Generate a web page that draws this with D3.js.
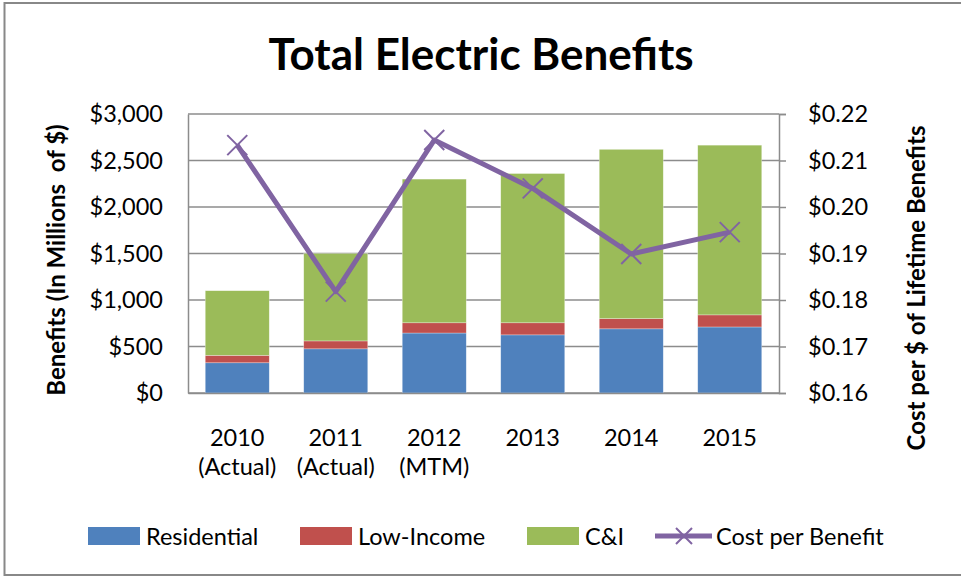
<!DOCTYPE html>
<html>
<head>
<meta charset="utf-8">
<script src="https://cdn.jsdelivr.net/npm/d3@7"></script>
<style>
  html, body { margin: 0; padding: 0; background: #fff; }
  svg { display: block; }
  text { font-family: Lato, "Open Sans", sans-serif; fill: #000; }
</style>
</head>
<body>
<svg id="chart" width="961" height="577"></svg>
<script>
// ---- data ----
const categories = ["2010|(Actual)", "2011|(Actual)", "2012|(MTM)", "2013", "2014", "2015"];
const residential = [325, 475, 645, 625, 690, 710];
const lowIncome   = [80, 85, 110, 130, 110, 130];
const cAndI       = [695, 940, 1545, 1605, 1820, 1825];
const costPerBenefit = [0.2133, 0.1818, 0.2144, 0.2040, 0.1899, 0.1946];
const leftTicks  = [0, 500, 1000, 1500, 2000, 2500, 3000];
const rightTicks = [0.16, 0.17, 0.18, 0.19, 0.20, 0.21, 0.22];
const seriesNames = ["Residential", "Low-Income", "C&I", "Cost per Benefit"];
const colors = ["#4F81BD", "#C0504D", "#9BBB59", "#8064A2"];

// ---- layout ----
const svg = d3.select("#chart");
const L = 188, R = 779, T = 114, B = 393;
const FS = 23.5;

svg.append("rect").attr("x", 4.5).attr("y", 3).attr("width", 970).attr("height", 572)
  .attr("fill", "none").attr("stroke", "#888").attr("stroke-width", 2);

const x = d3.scaleBand().domain(categories).range([L, R]).paddingInner(0.35).paddingOuter(0.175);
const yL = d3.scaleLinear().domain([0, 3000]).range([B, T]);
const yR = d3.scaleLinear().domain([0.16, 0.22]).range([B, T]);

// gridlines
svg.append("g").selectAll("line").data(leftTicks).join("line")
  .attr("x1", L).attr("x2", R).attr("y1", d => yL(d)).attr("y2", d => yL(d))
  .attr("stroke", "#8c8c8c").attr("stroke-width", 1.5);

// stacked bars
const rows = categories.map((c, i) => ({cat: c, residential: residential[i], lowIncome: lowIncome[i], cAndI: cAndI[i]}));
const stack = d3.stack().keys(["residential", "lowIncome", "cAndI"])(rows);
svg.append("g").selectAll("g").data(stack).join("g")
  .attr("fill", (d, i) => colors[i])
  .selectAll("rect").data(d => d).join("rect")
  .attr("x", d => x(d.data.cat))
  .attr("width", x.bandwidth())
  .attr("y", d => yL(d[1]))
  .attr("height", d => yL(d[0]) - yL(d[1]))
  .attr("stroke", "rgba(255,255,255,0.5)").attr("stroke-width", 0.6);

// axes
const axisL = svg.append("g").attr("transform", `translate(${L},0)`)
  .call(d3.axisLeft(yL).tickValues(leftTicks).tickSize(0).tickPadding(25)
    .tickFormat(d => "$" + d3.format(",")(d)));
axisL.select(".domain").attr("stroke", "#8c8c8c").attr("stroke-width", 1.5);
axisL.selectAll("text").attr("font-size", FS).style("font-family", "Lato");

const axisR = svg.append("g").attr("transform", `translate(${R},0)`)
  .call(d3.axisRight(yR).tickValues(rightTicks).tickSize(7).tickPadding(22)
    .tickFormat(d => "$" + d3.format(".2f")(d)));
axisR.select(".domain").attr("stroke", "#8c8c8c").attr("stroke-width", 1.5);
axisR.selectAll("line").attr("stroke", "#8c8c8c").attr("stroke-width", 1.5);
axisR.selectAll("text").attr("font-size", FS).style("font-family", "Lato");

const axisB = svg.append("g").attr("transform", `translate(0,${B})`)
  .call(d3.axisBottom(x).tickSize(0).tickFormat(""));
axisB.select(".domain").attr("stroke", "#8c8c8c").attr("stroke-width", 1.5);
axisB.selectAll(".tick").each(function(d) {
  const parts = d.split("|");
  const t = d3.select(this).append("text").attr("text-anchor", "middle").attr("font-size", FS)
    .style("fill", "#000");
  parts.forEach((p, k) => t.append("tspan").attr("x", 0).attr("y", 53 + k * 29).text(p));
});

// line series
const pts = categories.map((c, i) => [x(c) + x.bandwidth() / 2, yR(costPerBenefit[i])]);
svg.append("path").attr("d", d3.line()(pts))
  .attr("fill", "none").attr("stroke", colors[3]).attr("stroke-width", 5)
  .attr("stroke-linejoin", "round");
const m = 10;
svg.append("g").selectAll("path").data(pts).join("path")
  .attr("d", p => `M${p[0]-m},${p[1]-m}L${p[0]+m},${p[1]+m}M${p[0]-m},${p[1]+m}L${p[0]+m},${p[1]-m}`)
  .attr("stroke", colors[3]).attr("stroke-width", 2).attr("fill", "none");

// titles
svg.append("text").attr("x", 481).attr("y", 70).attr("text-anchor", "middle")
  .attr("font-size", 44).attr("font-weight", "bold").text("Total Electric Benefits");
svg.append("text").attr("transform", "translate(65,260) rotate(-90)").attr("text-anchor", "middle")
  .attr("font-size", 24).attr("font-weight", "bold").style("white-space", "pre")
  .text("Benefits (In Millions  of $)");
svg.append("text").attr("transform", "translate(925,288) rotate(-90)").attr("text-anchor", "middle")
  .attr("font-size", 24).attr("font-weight", "bold").text("Cost per $ of Lifetime Benefits");

// legend
const legX = [88, 300, 527, 655];
const lg = svg.append("g");
seriesNames.forEach((name, i) => {
  const g = lg.append("g").attr("transform", `translate(${legX[i]},536)`);
  if (i < 3) {
    g.append("rect").attr("x", 0).attr("y", -9).attr("width", 52).attr("height", 18).attr("fill", colors[i]);
    g.append("text").attr("x", 58).attr("y", 9).attr("font-size", FS).text(name);
  } else {
    g.append("line").attr("x1", 0).attr("x2", 57).attr("y1", 0).attr("y2", 0)
      .attr("stroke", colors[3]).attr("stroke-width", 5);
    g.append("path").attr("d", "M21,-8L37,8M21,8L37,-8").attr("stroke", colors[3]).attr("stroke-width", 2);
    g.append("text").attr("x", 61).attr("y", 9).attr("font-size", FS).text(name);
  }
});
</script>
</body>
</html>
